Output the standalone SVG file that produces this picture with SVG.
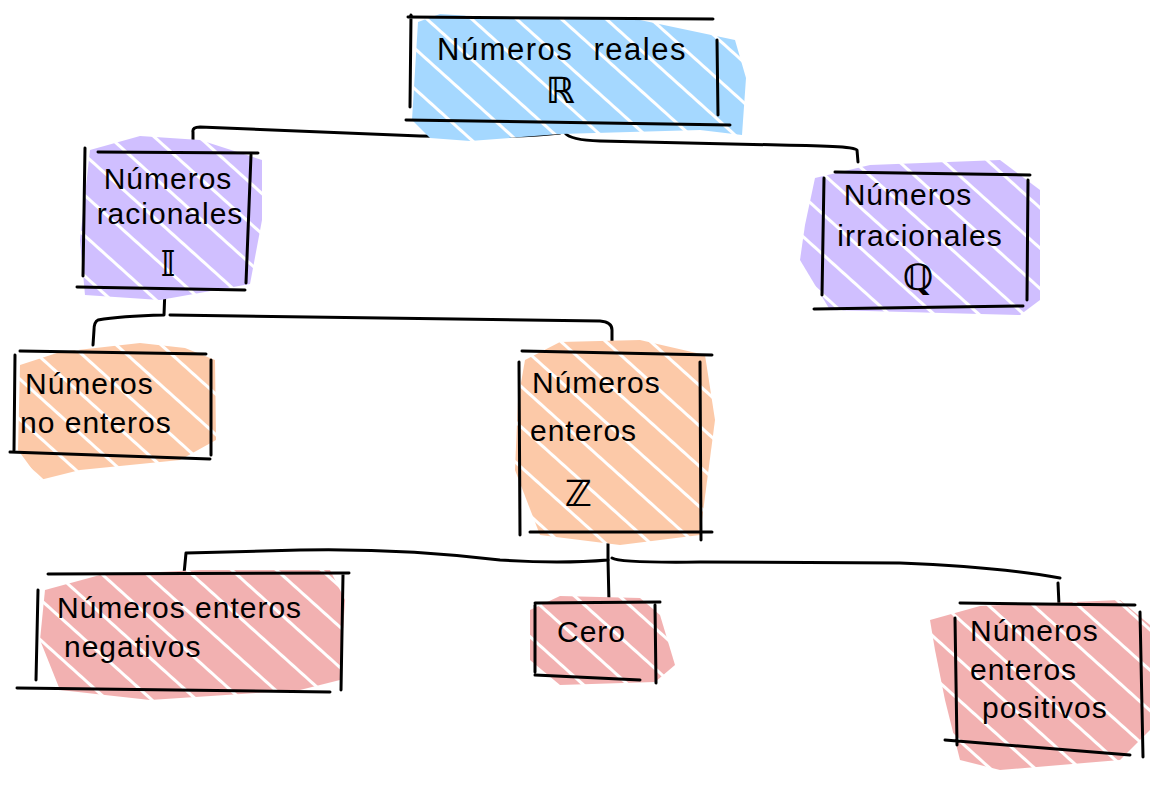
<svg xmlns="http://www.w3.org/2000/svg" width="1174" height="786" viewBox="0 0 1174 786">
<style>
.ln{fill:none;stroke:#000;stroke-width:3;stroke-linecap:round;stroke-linejoin:round}
.t{font-family:"Liberation Sans","DejaVu Sans",sans-serif;font-size:30px;fill:#000;letter-spacing:1px}
.tl{font-size:31px;letter-spacing:1.5px}
.sym{font-family:"DejaVu Sans","Liberation Sans",sans-serif;font-size:36px;font-weight:bold;fill:#000}
</style>
<defs>
<pattern id="hb" patternUnits="userSpaceOnUse" width="30" height="30" patternTransform="rotate(42)"><rect width="30" height="30" fill="#fff"/><rect width="30" height="27" fill="#a5d8ff"/></pattern>
<pattern id="hv" patternUnits="userSpaceOnUse" width="30" height="30" patternTransform="rotate(42)"><rect width="30" height="30" fill="#fff"/><rect width="30" height="27" fill="#d0bfff"/></pattern>
<pattern id="ho" patternUnits="userSpaceOnUse" width="30" height="30" patternTransform="rotate(42)"><rect width="30" height="30" fill="#fff"/><rect width="30" height="27" fill="#fcc9a8"/></pattern>
<pattern id="hr" patternUnits="userSpaceOnUse" width="30" height="30" patternTransform="rotate(42)"><rect width="30" height="30" fill="#fff"/><rect width="30" height="27" fill="#f2b1b1"/></pattern>
</defs>
<rect width="1174" height="786" fill="#fff"/>

<g id="connectors">
<path class="ln" d="M559 122 L560 133 Q520 138 420 136 L200 127 Q192 127 193 132 L193 144"/>
<path class="ln" d="M565 133 Q570 140 600 141 L780 145 Q857 146 857 150 L858 162"/>
<path class="ln" d="M165 288 L164 315 Q120 316 98 320 Q94 322 94 330 L93 345"/>
<path class="ln" d="M170 315 L600 321 Q612 322 612 330 L612 345"/>
<path class="ln" d="M608 535 L608 560 Q560 564 500 560 Q400 548 300 550 L186 553 L184 574"/>
<path class="ln" d="M608 560 L609 603"/>
<path class="ln" d="M612 558 Q620 563 700 562 L900 563 Q1000 567 1060 578"/>
<path class="ln" d="M1058 583 L1059 605"/>
</g>

<g id="n-reales">
<polygon points="418,22 440,14 470,16 640,20 735,40 746,78 742,135 700,130 560,134 470,141 430,138 412,120" fill="url(#hb)"/>
<path class="ln" d="M408 17 L713 19 M406 120 L730 125 M411 15 L410 107 M717 40 L718 115"/>
<text class="t tl" x="562" y="60" text-anchor="middle">Números&#160;&#160;reales</text>
<text class="sym" x="560" y="103" text-anchor="middle">ℝ</text>
</g>

<g id="n-racionales">
<polygon points="90,150 140,136 200,140 262,160 262,220 250,284 160,300 85,295 80,240" fill="url(#hv)"/>
<path class="ln" d="M98 152 L258 153 M77 287 L245 290 M85 148 L83 276 M251 155 L246 283"/>
<text class="t" x="168" y="189" text-anchor="middle">Números</text>
<text class="t" x="170" y="224" text-anchor="middle">racionales</text>
<text class="sym" x="168" y="276" text-anchor="middle">𝕀</text>
</g>

<g id="n-irracionales">
<polygon points="805,225 815,178 870,165 1000,160 1040,190 1040,300 1020,315 830,310 800,260" fill="url(#hv)"/>
<path class="ln" d="M835 172 L1030 175 M814 309 L1023 306 M824 178 L822 295 M1028 180 L1027 300"/>
<text class="t" x="908" y="205" text-anchor="middle">Números</text>
<text class="t" x="920" y="246" text-anchor="middle">irracionales</text>
<text class="sym" x="918" y="290" text-anchor="middle">ℚ</text>
</g>

<g id="n-noenteros">
<polygon points="20,365 60,352 140,343 185,348 215,360 216,440 180,460 80,470 40,480 18,450" fill="url(#ho)"/>
<path class="ln" d="M20 351 L206 354 M10 452 L210 459 M15 355 L14 450 M211 360 L211 455"/>
<text class="t" x="25" y="394">Números</text>
<text class="t" x="20" y="433">no enteros</text>
</g>

<g id="n-enteros">
<polygon points="525,360 560,342 640,340 705,355 715,420 700,535 620,545 540,535 515,470 518,400" fill="url(#ho)"/>
<path class="ln" d="M522 351 L712 355 M530 532 L712 532 M519 362 L520 535 M700 362 L701 540"/>
<text class="t" x="532" y="393">Números</text>
<text class="t" x="530" y="441">enteros</text>
<text class="sym" x="578" y="506" text-anchor="middle">ℤ</text>
</g>

<g id="n-negativos">
<polygon points="45,590 100,575 200,570 330,570 345,600 340,680 300,690 150,700 60,690 40,640" fill="url(#hr)"/>
<path class="ln" d="M48 574 L349 573 M17 688 L330 692 M38 590 L36 680 M343 575 L341 690"/>
<text class="t" x="57" y="618">Números enteros</text>
<text class="t" x="64" y="657">negativos</text>
</g>

<g id="n-cero">
<polygon points="530,610 560,596 640,598 660,615 675,665 655,682 560,685 530,660" fill="url(#hr)"/>
<path class="ln" d="M535 603 L660 602 M535 675 L640 680 M535 605 L535 672 M655 605 L656 683"/>
<text class="t" x="557" y="642">Cero</text>
</g>

<g id="n-positivos">
<polygon points="930,620 980,606 1120,600 1150,625 1150,730 1120,760 1000,770 960,760 945,700 935,650" fill="url(#hr)"/>
<path class="ln" d="M960 603 L1135 605 M945 740 L1130 755 M955 618 L957 745 M1140 612 L1143 757"/>
<text class="t" x="970" y="641">Números</text>
<text class="t" x="970" y="680">enteros</text>
<text class="t" x="982" y="718">positivos</text>
</g>
</svg>
